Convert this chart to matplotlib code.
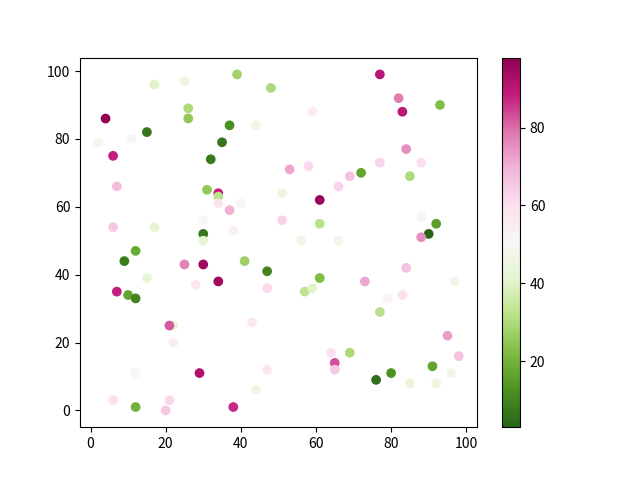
import matplotlib
matplotlib.use("Agg")
import matplotlib.pyplot as plt

plt.rcParams["font.family"] = ["Noto Sans CJK SC", "DejaVu Sans"]

x = [4, 2, 6, 15, 11, 17, 25, 26, 26, 39, 48, 37, 35, 44, 32, 31, 34, 34, 34, 37,
     40, 30, 30, 30, 38, 7, 6, 17, 12, 9, 30, 25, 47, 41, 34, 28, 47, 15, 7, 10,
     12, 22, 21, 22, 43, 12, 29, 44, 47, 6, 12, 21, 20, 38,
     77, 82, 83, 93, 59, 53, 58, 51, 61, 51, 56, 61, 66, 61, 57, 59, 66, 69, 72,
     77, 84, 88, 85, 88, 92, 90, 88, 84, 79, 83, 73, 77, 97, 95, 98, 64, 65, 65,
     69, 76, 80, 85, 91, 92, 96]
y = [86, 79, 75, 82, 80, 96, 97, 89, 86, 99, 95, 84, 79, 84, 74, 65, 64, 63, 61, 59,
     61, 56, 52, 50, 53, 66, 54, 54, 47, 44, 43, 43, 41, 44, 38, 37, 36, 39, 35, 34,
     33, 25, 25, 20, 26, 11, 11, 6, 12, 3, 1, 3, 0, 1,
     99, 92, 88, 90, 88, 71, 72, 64, 62, 56, 50, 55, 50, 39, 35, 36, 66, 69, 70,
     73, 77, 73, 69, 57, 55, 52, 51, 42, 33, 34, 38, 29, 38, 22, 16, 17, 14, 12,
     17, 9, 11, 8, 13, 8, 11]
c = [97, 48, 88, 7, 52, 40, 45, 30, 25, 28, 30, 12, 7, 47, 8, 25, 88, 32, 58, 70,
     52, 52, 7, 43, 53, 68, 65, 42, 18, 8, 95, 77, 10, 27, 95, 58, 62, 43, 88, 17,
     10, 43, 82, 55, 57, 51, 92, 45, 57, 60, 20, 62, 65, 87,
     90, 78, 90, 23, 56, 72, 62, 45, 96, 63, 47, 32, 47, 22, 33, 40, 63, 67, 17,
     63, 75, 60, 30, 53, 15, 3, 75, 67, 52, 60, 72, 32, 47, 73, 67, 60, 83, 65,
     30, 5, 13, 44, 17, 44, 47]

fig, ax = plt.subplots(figsize=(6.4, 4.8), dpi=100)
sc = ax.scatter(x, y, c=c, cmap="PiYG_r", vmin=3, vmax=98)
fig.colorbar(sc, ax=ax)
fig.savefig("out.png")
